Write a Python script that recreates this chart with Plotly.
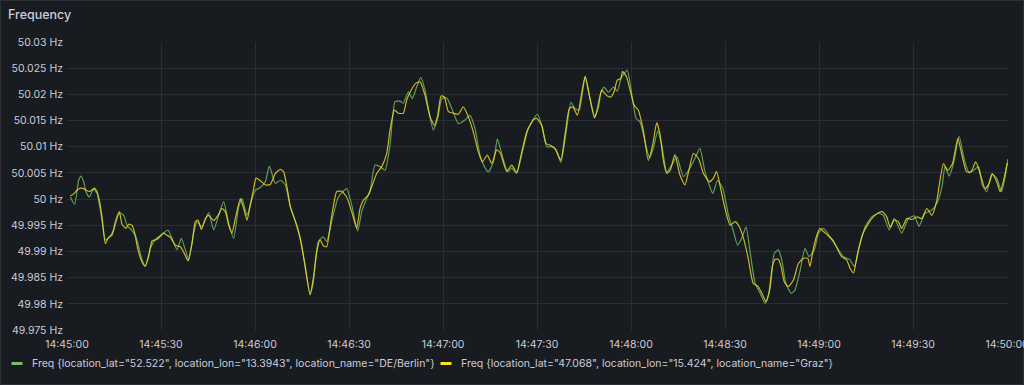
import pandas as pd
import plotly.graph_objects as go

# ---------------- data ----------------
start_time = "2024-01-01 14:45:00"

series_names = [
    'Freq {location_lat="52.522", location_lon="13.3943", location_name="DE/Berlin"}',
    'Freq {location_lat="47.068", location_lon="15.424", location_name="Graz"}',
]
series_colors = ["#73BF69", "#FADE2A"]

# seconds after 14:45:00 and frequency in Hz
berlin_t = [
    1.06, 2.45, 3.72, 4.47, 5.32, 6.06, 7.13, 8.51, 9.57, 11.17, 12.23, 13.30, 14.89, 16.70,
    18.09, 19.15, 20.74, 22.02, 23.94, 25.00, 26.60, 28.19, 30.32, 32.23, 33.51, 35.11, 36.49,
    37.77, 38.83, 40.42, 41.49, 43.09, 45.21, 46.81, 48.40, 50.00, 51.60, 53.19, 54.79, 55.85,
    57.45, 59.04, 60.11, 61.70, 63.30, 64.57, 66.49, 68.09, 69.68, 71.28, 73.40,
    74.9, 77.56, 78.62, 80.2, 81.81, 82.88, 84.7, 86.6, 89.26, 90.85, 92.77, 94.05, 95.64,
    96.7, 98.3, 99.9, 101.5, 103.09, 104.68, 106.28, 107.34, 108.94, 110.2, 111.6, 112.9,
    114.26, 115.5, 116.9, 118.3, 119.6, 121.2, 122.8, 124.9, 127.0, 128.6, 130.2, 131.8,
    133.2, 134.5, 136.1, 137.35, 138.7, 140.6, 141.9, 143.5, 145.1, 147.2,
    150.1, 151.5, 153.1, 154.7, 156.1, 157.6, 159.3, 160.8, 162.1, 163.5, 165.3, 166.9,
    168.5, 170.1, 171.4, 172.8, 174.4, 175.6, 177.0, 178.8, 180.2, 181.6, 182.9, 184.5,
    185.9, 187.1, 188.5, 189.8, 191.4, 193.0, 194.6, 196.7, 198.8, 200.4, 202.0, 203.6,
    206.1, 207.6, 209.3, 211.1, 212.7, 214.0, 215.3, 216.7, 218.0, 219.6, 221.2, 222.8,
    224.4, 225.7, 227.0, 228.1, 229.4, 231.1, 232.3, 234.0, 235.5, 236.8, 238.5, 239.8,
    241.4, 243.5, 245.6, 247.8, 249.9, 251.3, 252.6, 254.7, 256.8, 259.0, 260.5, 262.4,
    264.0, 266.4, 268.5, 270.4, 271.9, 273.8, 276.0, 277.6, 279.2, 280.2, 281.5, 282.9,
    284.7, 286.4, 287.9, 289.3, 290.9, 292.1, 293.5, 295.1, 296.7, 298.3, 299.4, 300.2,
]
berlin_hz = [
    50.0004, 49.9990, 50.0036, 50.0044, 50.0033, 50.0014, 50.0004, 50.0019, 50.0011, 49.9960,
    49.9922, 49.9926, 49.9941, 49.9974, 49.9969, 49.9950, 49.9940, 49.9928, 49.9884, 49.9872,
    49.9906, 49.9923, 49.9933, 49.9941, 49.9925, 49.9903, 49.9925, 49.9903, 49.9884, 49.9935,
    49.9957, 49.9947, 49.9974, 49.9941, 49.9969, 49.9995, 49.9954, 49.9925, 49.9985, 50.0001,
    49.9969, 50.0001, 50.0017, 50.0022, 50.0033, 50.0063, 50.0030, 50.0036, 50.0027, 49.9985,
    49.9950,
    49.9912, 49.9817, 49.9842, 49.9919, 49.9928, 49.9919, 49.9963, 50.0004, 50.0020, 49.9989,
    49.9939, 49.9976, 50.0001, 50.0015, 50.0065, 50.0062, 50.0055, 50.0103, 50.0186, 50.0187,
    50.0183, 50.0205, 50.0192, 50.0214, 50.0232, 50.0208, 50.0167, 50.0132, 50.0154, 50.0192,
    50.0193, 50.0173, 50.0144, 50.0151, 50.0160, 50.0135, 50.0084, 50.0062, 50.0052, 50.0071,
    50.0115, 50.0087, 50.0052, 50.0059, 50.0049, 50.0084, 50.0135,
    50.0162, 50.0141, 50.0100, 50.0100, 50.0094, 50.0070, 50.0128, 50.0185, 50.0173, 50.0170,
    50.0233, 50.0192, 50.0157, 50.0198, 50.0214, 50.0204, 50.0214, 50.0206, 50.0233, 50.0246,
    50.0202, 50.0154, 50.0147, 50.0109, 50.0078, 50.0097, 50.0130, 50.0103, 50.0052, 50.0065,
    50.0081, 50.0043, 50.0059, 50.0078, 50.0097, 50.0052, 50.0011, 50.0036, 50.0020, 49.9969,
    49.9938, 49.9912, 49.9925, 49.9947, 49.9899, 49.9839, 49.9820, 49.9801,
    49.9830, 49.9896, 49.9903, 49.9884, 49.9839, 49.9820, 49.9826, 49.9865, 49.9906, 49.9890,
    49.9903, 49.9935, 49.9944, 49.9928, 49.9909, 49.9890, 49.9884, 49.9871, 49.9903, 49.9947,
    49.9966, 49.9973, 49.9969, 49.9941, 49.9963, 49.9935, 49.9963, 49.9968, 49.9948, 49.9973,
    49.9979, 49.9992, 50.0023, 50.0062, 50.0044, 50.0068, 50.0120, 50.0074, 50.0050, 50.0055,
    50.0062, 50.0027, 50.0014, 50.0048, 50.0040, 50.0014, 50.0043, 50.0076,
]

graz_t = [
    1.06, 2.13, 3.19, 4.26, 5.32, 6.38, 7.45, 8.72, 9.57, 10.32, 11.17, 12.23, 13.30, 14.36,
    15.43, 16.70, 17.55, 18.83, 19.68, 20.74, 21.60, 22.66, 23.94, 25.00, 26.06, 27.13, 28.72,
    29.79, 30.85, 31.91, 32.98, 34.57, 36.17, 37.23, 38.62, 39.89, 40.96, 41.81, 42.87, 44.15,
    45.21, 46.81, 48.19, 49.47, 50.53, 51.60, 52.66, 53.72, 55.32, 56.38, 57.45, 58.51, 59.57,
    60.32, 61.70, 63.30, 64.89, 66.49, 68.09, 69.15, 70.21, 71.28, 72.87,
    74.4, 75.96, 77.56, 78.62, 79.68, 80.75, 81.81, 82.88, 84.26, 86.07, 87.66, 89.26, 90.85,
    92.45, 93.51, 94.58, 96.17, 97.45, 98.83, 100.43, 102.02, 103.09, 104.47, 105.75, 107.34,
    108.41, 109.79, 111.28, 112.66, 114.26, 115.86, 117.24, 118.30, 119.36, 120.43, 121.71,
    123.30, 124.89, 126.49, 128.09, 129.68, 131.28, 132.55, 134.15, 135.53, 137.13, 138.19,
    140.32, 141.92, 143.51, 145.11, 146.70,
    147.77, 148.8, 149.9, 151.5, 152.9, 154.2, 155.7, 157.6, 158.9, 160.3, 161.4, 162.9, 164.3,
    165.4, 166.7, 168.3, 169.6, 170.6, 172.2, 173.5, 174.6, 175.6, 176.7, 177.3, 178.6, 179.7,
    181.0, 182.3, 183.9, 185.5, 186.9, 188.2, 189.3, 190.3, 191.4, 192.5, 194.0, 195.6, 197.2,
    198.6, 199.9, 201.5, 203.1, 205.0, 206.3, 207.3, 208.6, 210.0, 211.6, 213.2, 214.3, 215.9,
    217.4, 219.0, 220.6, 222.0, 223.1,
    224.0, 225.1, 226.0, 227.0, 227.9, 228.9, 230.2, 231.8, 233.4, 235.0, 236.4, 237.1, 238.2,
    239.3, 240.3, 241.4, 242.8, 244.6, 246.0, 247.2, 248.8, 249.9, 251.0, 252.3, 253.8, 255.8,
    257.3, 259.0, 260.2, 261.6, 262.7, 264.0, 265.3, 266.4, 268.0, 269.6, 271.2, 272.8, 274.4,
    276.0, 277.6, 278.6, 279.7, 281.1, 282.6, 284.3, 285.7, 287.1, 288.5, 290.0, 291.4, 293.0,
    294.3, 295.3, 296.7, 297.8, 298.8, 300.1,
]
graz_hz = [
    50.0006, 50.0010, 50.0017, 50.0021, 50.0020, 50.0016, 50.0015, 50.0021, 50.0014, 49.9998,
    49.9966, 49.9915, 49.9927, 49.9931, 49.9957, 49.9976, 49.9952, 49.9944, 49.9952, 49.9950,
    49.9935, 49.9903, 49.9880, 49.9872, 49.9890, 49.9920, 49.9923, 49.9929, 49.9935, 49.9931,
    49.9927, 49.9912, 49.9909, 49.9899, 49.9882, 49.9915, 49.9957, 49.9960, 49.9942, 49.9963,
    49.9969, 49.9959, 49.9969, 49.9982, 49.9976, 49.9950, 49.9935, 49.9963, 50.0001, 49.9982,
    49.9960, 49.9989, 50.0020, 50.0040, 50.0035, 50.0027, 50.0028, 50.0049, 50.0057, 50.0052,
    50.0023, 49.9985, 49.9957,
    49.9925, 49.9874, 49.9818, 49.9849, 49.9899, 49.9922, 49.9911, 49.9909, 49.9960, 50.0014,
    50.0015, 50.0004, 49.9976, 49.9944, 49.9982, 49.9998, 50.0008, 50.0027, 50.0049, 50.0062,
    50.0087, 50.0132, 50.0170, 50.0164, 50.0164, 50.0189, 50.0208, 50.0221, 50.0224, 50.0198,
    50.0157, 50.0141, 50.0160, 50.0197, 50.0195, 50.0167, 50.0164, 50.0162, 50.0176, 50.0157,
    50.0128, 50.0090, 50.0071, 50.0084, 50.0068, 50.0094, 50.0089, 50.0053, 50.0065, 50.0051,
    50.0090, 50.0128,
    50.0141, 50.0151, 50.0154, 50.0141, 50.0106, 50.0103, 50.0097, 50.0074, 50.0122, 50.0173,
    50.0176, 50.0160, 50.0205, 50.0235, 50.0198, 50.0155, 50.0176, 50.0208, 50.0198, 50.0195,
    50.0205, 50.0227, 50.0230, 50.0244, 50.0233, 50.0208, 50.0179, 50.0170, 50.0132, 50.0074,
    50.0103, 50.0146, 50.0122, 50.0074, 50.0049, 50.0055, 50.0085, 50.0046, 50.0027, 50.0059,
    50.0087, 50.0078, 50.0049, 50.0033, 50.0040, 50.0053, 50.0020, 49.9982, 49.9950, 49.9957,
    49.9950, 49.9925, 49.9887, 49.9839, 49.9833, 49.9817, 49.9804,
    49.9820, 49.9871, 49.9885, 49.9885, 49.9871, 49.9842, 49.9833, 49.9845, 49.9877, 49.9887,
    49.9887, 49.9871, 49.9906, 49.9931, 49.9944, 49.9938, 49.9931, 49.9920, 49.9903, 49.9890,
    49.9884, 49.9868, 49.9859, 49.9896, 49.9931, 49.9954, 49.9966, 49.9974, 49.9976, 49.9966,
    49.9946, 49.9960, 49.9957, 49.9944, 49.9963, 49.9961, 49.9966, 49.9963, 49.9982, 49.9969,
    49.9998, 50.0036, 50.0068, 50.0055, 50.0068, 50.0116, 50.0081, 50.0052, 50.0052, 50.0071,
    50.0049, 50.0020, 50.0030, 50.0048, 50.0033, 50.0014, 50.0033, 50.0069,
]

y_tick_vals = [49.975, 49.98, 49.985, 49.99, 49.995, 50.0, 50.005, 50.01, 50.015, 50.02, 50.025, 50.03]
y_tick_text = ["49.975 Hz", "49.98 Hz", "49.985 Hz", "49.99 Hz", "49.995 Hz", "50 Hz",
               "50.005 Hz", "50.01 Hz", "50.015 Hz", "50.02 Hz", "50.025 Hz", "50.03 Hz"]
x_range_seconds = [0, 300.3]

# ---------------- figure ----------------
base = pd.Timestamp(start_time)
def to_time(secs):
    return base + pd.to_timedelta(secs, unit="s")

W, H = 1024, 385
ML, MR, MT, MB = 67, 16, 42, 55
PW, PH = W - ML - MR, H - MT - MB

BG = "#181b1f"
TXT = "#ccccdc"
GRID = "#2a2d33"
FONT = "Inter, Roboto, sans-serif"
FS = 10.5

fig = go.Figure()
for name, color, ts, vs in [
    (series_names[0], series_colors[0], berlin_t, berlin_hz),
    (series_names[1], series_colors[1], graz_t, graz_hz),
]:
    fig.add_trace(go.Scatter(
        x=to_time(ts), y=vs, mode="lines", name=name,
        line=dict(color=color, width=1.2, shape="spline", smoothing=0.5),
        opacity=0.8, showlegend=False,
    ))

def px_x(px):
    return (px - ML) / PW

def px_y(py):
    return (H - MB - py) / PH

# custom Grafana-style legend
legend_items = [(11.5, 30), (440.5, 459)]
annotations = []
shapes = []
for (sx, tx), name, color in zip(legend_items, series_names, series_colors):
    shapes.append(dict(type="rect", xref="paper", yref="paper",
                       x0=px_x(sx), x1=px_x(sx + 11), y0=px_y(365), y1=px_y(362),
                       fillcolor=color, line=dict(width=0), layer="above"))
    annotations.append(dict(text=name, xref="paper", yref="paper",
                            x=px_x(tx), y=px_y(363.5), xanchor="left", yanchor="middle",
                            showarrow=False, font=dict(family=FONT, size=FS, color=TXT)))

# panel border
shapes.append(dict(type="rect", xref="paper", yref="paper",
                   x0=px_x(0.5), x1=px_x(W - 0.5), y0=px_y(H - 0.5), y1=px_y(0.5),
                   line=dict(color="#2c2f36", width=1), fillcolor="rgba(0,0,0,0)", layer="below"))

fig.update_layout(
    width=W, height=H,
    margin=dict(l=ML, r=MR, t=MT, b=MB, autoexpand=False),
    paper_bgcolor=BG, plot_bgcolor=BG,
    font=dict(family=FONT, size=FS, color=TXT),
    title=dict(text="Frequency", x=8 / W, y=1 - 15 / H, xref="container", yref="container",
               xanchor="left", yanchor="middle",
               font=dict(family=FONT, size=12.5, color=TXT, weight=500)),
    annotations=annotations,
    shapes=shapes,
    xaxis=dict(
        type="date",
        range=[to_time(x_range_seconds[0]), to_time(x_range_seconds[1])],
        dtick=30000, tick0=to_time(0), tickformat="%H:%M:%S",
        showgrid=True, gridcolor=GRID, gridwidth=1,
        zeroline=False, showline=False, ticks="", ticklen=0,
        ticklabelstandoff=6, ticklabeloverflow="allow",
        tickfont=dict(family=FONT, size=FS, color=TXT), automargin=False,
    ),
    yaxis=dict(
        range=[y_tick_vals[0], y_tick_vals[-1]],
        tickvals=y_tick_vals, ticktext=y_tick_text,
        showgrid=True, gridcolor=GRID, gridwidth=1,
        zeroline=False, showline=False, ticks="", ticklen=0,
        ticklabelstandoff=3,
        tickfont=dict(family=FONT, size=FS, color=TXT), automargin=False,
    ),
    hovermode=False,
)

fig.write_html(
    "out.html",
    config={"displayModeBar": False},
    post_script="document.body.style.margin='0';document.body.style.background='#181b1f';document.body.style.overflow='hidden';",
)
